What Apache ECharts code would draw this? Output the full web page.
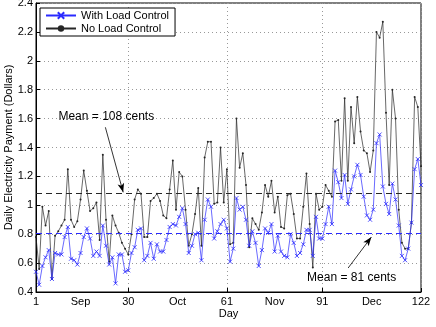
<!DOCTYPE html>
<html>
<head>
<meta charset="utf-8">
<script src="https://cdn.jsdelivr.net/npm/echarts@6/dist/echarts.min.js"></script>
<style>
  html, body { margin: 0; padding: 0; background: #fff; }
  #chart { width: 436px; height: 327px; }
</style>
</head>
<body>
<div id="chart"></div>
<script>
// daily payment, dollars, day 1..122
var withControl = [
  0.54, 0.45, 0.58, 0.64, 0.69, 0.49, 0.67, 0.66, 0.66, 0.78,
  0.85, 0.63, 0.62, 0.59, 0.67, 0.78, 0.84, 0.77, 0.65, 0.68,
  0.65, 0.86, 0.72, 0.59, 0.64, 0.46, 0.66, 0.66, 0.54, 0.55,
  0.67, 0.71, 0.83, 0.84, 0.62, 0.65, 0.74, 0.63, 0.73, 0.68,
  0.68, 0.76, 0.85, 0.87, 0.86, 0.92, 0.98, 0.87, 0.67, 0.72,
  0.80, 0.81, 0.62, 0.90, 1.04, 0.99, 0.77, 0.82, 0.87, 0.90,
  0.84, 0.61, 0.70, 1.05, 0.97, 0.99, 0.90, 0.72, 0.82, 0.74,
  0.58, 0.69, 0.84, 0.81, 0.87, 0.68, 0.79, 0.68, 0.65, 0.64,
  0.80, 0.74, 0.65, 0.67, 0.73, 0.83, 0.83, 0.65, 0.92, 0.77,
  0.77, 0.87, 0.99, 0.87, 1.24, 1.16, 1.05, 1.21, 1.01, 1.11,
  1.20, 1.28, 1.21, 1.06, 0.93, 0.90, 0.97, 1.43, 1.49, 1.13,
  1.01, 0.94, 1.15, 1.04, 0.86, 0.65, 0.62, 0.70, 0.88, 1.25,
  1.32, 1.14
]
var noControl = [
  0.78, 0.56, 0.99, 0.86, 0.96, 0.49, 0.79, 0.82, 0.86, 0.90,
  1.25, 0.90, 0.85, 0.89, 1.04, 1.24, 1.10, 0.96, 0.98, 1.02,
  0.76, 1.35, 0.90, 0.61, 0.93, 0.86, 0.81, 0.74, 0.70, 0.66,
  0.80, 1.04, 1.11, 1.08, 0.78, 0.78, 1.03, 1.05, 1.08, 1.03,
  0.93, 0.91, 1.11, 1.31, 0.97, 1.23, 1.20, 0.97, 0.72, 0.80,
  0.94, 1.12, 0.72, 1.33, 1.44, 1.44, 1.01, 1.02, 1.40, 1.02,
  1.25, 0.73, 0.74, 1.60, 1.26, 1.36, 1.14, 0.71, 0.91, 0.87,
  0.83, 0.95, 1.14, 1.06, 1.17, 0.95, 1.06, 0.85, 0.84, 1.07,
  1.08, 0.94, 0.77, 0.77, 0.99, 1.22, 0.87, 0.57, 1.08, 0.97,
  0.99, 1.14, 1.10, 1.06, 1.58, 1.59, 1.17, 1.74, 1.17, 1.68,
  1.43, 1.75, 1.51, 1.38, 1.36, 1.23, 1.38, 2.20, 2.16, 2.27,
  1.64, 1.14, 1.80, 1.60, 0.97, 0.74, 0.70, 0.70, 0.88, 1.75,
  1.68, 1.27
]
var meanNo = 1.08
var meanWith = 0.81

var dayTicks = [1, 30, 61, 91, 122]
var monthNames = ['Sep', 'Oct', 'Nov', 'Dec']
var monthMid = [15, 45.5, 76, 106.5]

var labelMap = {}
dayTicks.forEach(function (d) { labelMap[d] = String(d) })
monthMid.forEach(function (d, i) { labelMap[d] = monthNames[i] })
var labelValues = dayTicks.concat(monthMid).sort(function (a, b) { return a - b })

function toPairs(arr) {
  return arr.map(function (v, i) { return [i + 1, v] })
}

var font = 'Liberation Sans, Arial, sans-serif'
var blue = '#2a2aff'
var black = '#262626'
var xMark = 'path://M0,0 L10,10 M10,0 L0,10'

var myChart = echarts.init(document.getElementById('chart'))
var option = {
  animation: false,
  textStyle: { fontFamily: font },
  grid: {
    left: 36, right: 15, top: 3, bottom: 35,
    outerBoundsMode: 'none',
    show: true, borderColor: '#000', borderWidth: 1, backgroundColor: 'transparent'
  },
  legend: {
    orient: 'vertical',
    left: 40, top: 8,
    itemWidth: 30, itemHeight: 8, itemGap: 2,
    backgroundColor: '#fff',
    borderColor: '#000', borderWidth: 1, borderRadius: 0,
    padding: [2, 6, 2, 5],
    textStyle: { fontSize: 11, color: '#000', fontFamily: font },
    data: ['With Load Control', 'No Load Control']
  },
  xAxis: {
    type: 'value',
    min: 1, max: 122,
    name: 'Day',
    nameLocation: 'middle',
    nameGap: 16,
    nameMoveOverlap: false,
    nameTextStyle: { fontSize: 11, color: '#000', fontFamily: font },
    axisLine: { lineStyle: { color: '#000' } },
    axisTick: { inside: true, length: 4, customValues: dayTicks, lineStyle: { color: '#000' } },
    axisLabel: {
      customValues: labelValues,
      fontSize: 11, color: '#000', margin: 4,
      formatter: function (v) { return labelMap[v] || '' }
    },
    splitLine: { show: true, lineStyle: { color: '#999', type: [1, 3] } }
  },
  yAxis: {
    type: 'value',
    min: 0.4, max: 2.4, interval: 0.2,
    name: 'Daily Electricity Payment (Dollars)',
    nameLocation: 'middle',
    nameGap: 22,
    nameMoveOverlap: false,
    nameTextStyle: { fontSize: 11, color: '#000', fontFamily: font },
    axisLine: { show: true, lineStyle: { color: '#000' } },
    axisTick: { show: true, inside: true, length: 4, lineStyle: { color: '#000' } },
    axisLabel: {
      fontSize: 11, color: '#000', margin: 3,
      formatter: function (v) { return String(Math.round(v * 10) / 10) }
    },
    splitLine: { show: true, lineStyle: { color: '#999', type: [1, 3] } }
  },
  series: [
    {
      name: 'With Load Control',
      type: 'line',
      data: toPairs(withControl),
      symbol: xMark,
      symbolSize: 4,
      showAllSymbol: true,
      lineStyle: { color: blue, width: 0.7 },
      itemStyle: { color: blue, borderColor: blue, borderWidth: 0.8 },
      z: 3,
      markLine: {
        silent: true,
        symbol: ['none', 'none'],
        label: { show: false },
        lineStyle: { color: blue, type: [6, 4], width: 1 },
        data: [{ yAxis: meanWith }]
      }
    },
    {
      name: 'No Load Control',
      type: 'line',
      data: toPairs(noControl),
      symbol: 'circle',
      symbolSize: 2,
      showAllSymbol: true,
      lineStyle: { color: black, width: 0.7 },
      itemStyle: { color: black },
      z: 2,
      markLine: {
        silent: true,
        symbol: ['none', 'none'],
        label: { show: false },
        lineStyle: { color: black, type: [6, 4], width: 1 },
        data: [{ yAxis: meanNo }]
      }
    },
    {
      // annotations: arrows and text
      name: 'notes',
      type: 'line',
      data: [],
      markLine: {
        silent: true,
        symbol: ['none', 'arrow'],
        symbolSize: [5, 9],
        label: { show: false },
        lineStyle: { color: '#000', type: 'solid', width: 0.8 },
        data: [
          [{ coord: [22.8, 1.54] }, { coord: [28.4, 1.09] }],
          [{ coord: [99.1, 0.566] }, { coord: [106.4, 0.78] }]
        ]
      },
      markPoint: {
        silent: true,
        symbol: 'rect',
        symbolSize: 0.1,
        itemStyle: { color: 'transparent' },
        label: {
          show: true, position: 'inside',
          fontSize: 12, color: '#000', fontFamily: font,
          formatter: function (p) { return p.name }
        },
        data: [
          { name: 'Mean = 108 cents', coord: [23.1, 1.61] },
          { name: 'Mean = 81 cents', coord: [100.2, 0.497] }
        ]
      }
    }
  ]
}
myChart.setOption(option)
</script>
</body>
</html>
